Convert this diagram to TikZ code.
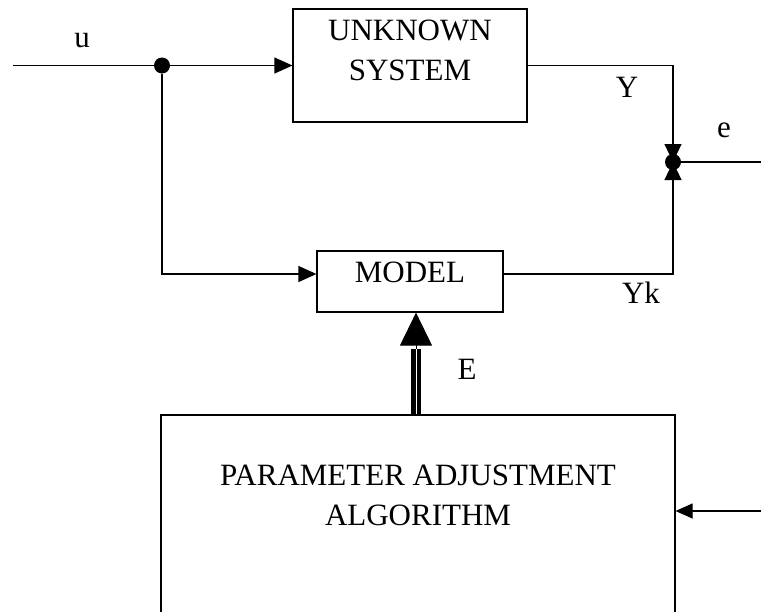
\documentclass[tikz,border=0pt]{standalone}
\usepackage{fontspec}
\setmainfont{Liberation Serif}
\usetikzlibrary{arrows.meta,calc}
\begin{document}
\begin{tikzpicture}[x=1pt,y=-1pt,
  box/.style={draw,line width=1.2pt,inner sep=0pt,rectangle},
  txt/.style={inner sep=0pt,font=\fontsize{31}{40}\selectfont,align=center},
  wire/.style={line width=1.2pt},
  tip/.style={-{Triangle[width=16pt,length=18pt]}},
  jtip/.style={-{Triangle[width=17pt,length=18pt]}},
  shaft/.style={line width=4.4pt},
  dot/.style={circle,fill,inner sep=0pt,minimum size=16pt}]
\useasboundingbox (0,0) rectangle (761,611);
\clip (0,0) rectangle (761,611);
% boxes
\node[box,minimum width=234pt,minimum height=113pt] (unk) at (410,65.5) {};
\node[box,minimum width=186pt,minimum height=61pt] (model) at (410,281.5) {};
\node[box,minimum width=514pt,minimum height=240pt] (param) at (418,535) {};
% junction dots
\node[dot] (split) at (162,65.5) {};
\node[dot] (jn) at (673,162) {};
% coordinates
\coordinate (in) at (13,65.5);
\coordinate (out) at (761,162);
\coordinate (in2) at (761,511);
\coordinate (ea) at (416,0);
% connectors
\draw[wire] (in) -- (split);
\draw[wire,tip] (split) -- (unk.west);
\draw[wire,tip] (split) |- ([yshift=7.5pt]model.west);
\draw[wire,jtip] (unk.east) -| (jn.center);
\draw[wire,jtip] ([yshift=7.5pt]model.east) -| (jn.center);
\draw[wire] (jn) -- (out);
\draw[shaft] ([xshift=-2.7pt]ea |- param.north) -- ([xshift=-2.7pt,yshift=-36pt]ea |- model.south);
\draw[shaft] ([xshift=2.7pt]ea |- param.north) -- ([xshift=2.7pt,yshift=-36pt]ea |- model.south);
\draw[line width=1pt,-{Triangle[width=32pt,length=33pt]}] ([yshift=-36pt]ea |- model.south) -- (ea |- model.south);
\draw[wire,-{Triangle[width=15pt,length=17pt]}] (in2) -- (in2 -| param.east);
% texts
\node[txt,anchor=north] (unkt) at (410,20) {UNKNOWN\\SYSTEM};
\node[txt,anchor=north] (modelt) at (410,262) {MODEL};
\node[txt,anchor=north] (paramt) at (418,465) {PARAMETER ADJUSTMENT\\ALGORITHM};
\node[txt,anchor=base] (ul) at (82,47) {u};
\node[txt,anchor=base] (yl) at (627,97) {Y};
\node[txt,anchor=base] (ykl) at (641,303) {Yk};
\node[txt,anchor=base] (el) at (724,137) {e};
\node[txt,anchor=base] (El) at (467,379) {E};
\end{tikzpicture}
\end{document}
